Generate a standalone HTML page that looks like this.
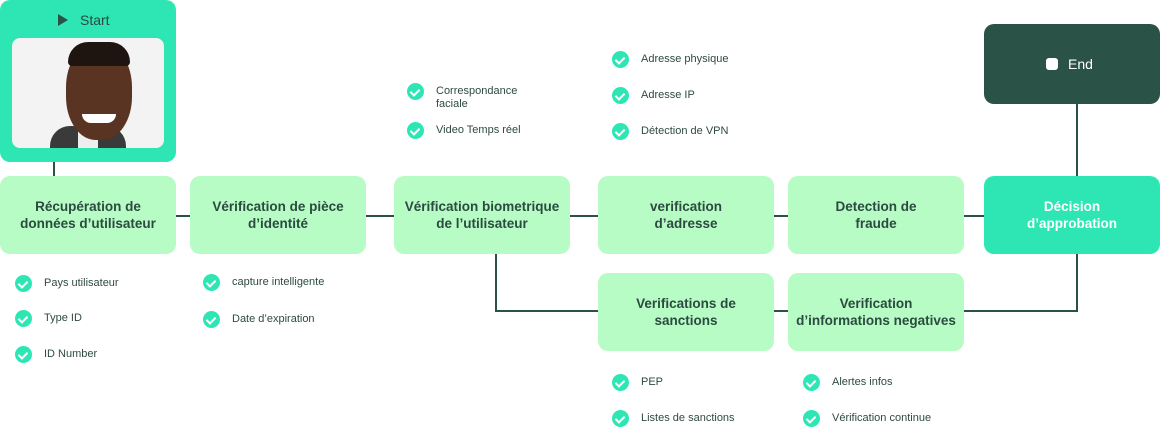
<!DOCTYPE html>
<html><head><meta charset="utf-8"><style>
*{margin:0;padding:0;box-sizing:border-box}
body{width:1161px;height:442px;background:#fff;position:relative;overflow:hidden;font-family:"Liberation Sans",sans-serif;color:#2a4a40}
.n{position:absolute;width:176px;height:78px;border-radius:10px;background:#b7fcc4;display:flex;align-items:center;justify-content:center;text-align:center;font-weight:bold;font-size:13.5px;line-height:17px;color:#2b4a40}
.l{position:absolute;background:#2a5246}
.c{position:absolute;font-size:11px;line-height:13px;color:#2f4a42}
.c::before{content:"";position:absolute;left:-29px;top:-2px;width:17px;height:17px;border-radius:50%;background:#2ee6b4}
.c::after{content:"";position:absolute;left:-24px;top:2px;width:4px;height:7px;border:solid #fff;border-width:0 2px 2px 0;transform:rotate(45deg)}
</style></head><body>
<div class="l" style="left:53px;top:160px;width:2px;height:18px"></div>
<div class="l" style="left:176px;top:215px;width:16px;height:2px"></div>
<div class="l" style="left:366px;top:215px;width:30px;height:2px"></div>
<div class="l" style="left:570px;top:215px;width:30px;height:2px"></div>
<div class="l" style="left:774px;top:215px;width:16px;height:2px"></div>
<div class="l" style="left:964px;top:215px;width:22px;height:2px"></div>
<div class="l" style="left:495px;top:254px;width:2px;height:58px"></div>
<div class="l" style="left:495px;top:310px;width:105px;height:2px"></div>
<div class="l" style="left:774px;top:310px;width:16px;height:2px"></div>
<div class="l" style="left:964px;top:310px;width:114px;height:2px"></div>
<div class="l" style="left:1076px;top:252px;width:2px;height:60px"></div>
<div class="l" style="left:1076px;top:102px;width:2px;height:76px"></div>

<div style="position:absolute;left:0;top:0;width:176px;height:162px;border-radius:10px;background:#2ee6b4">
 <div style="position:absolute;left:58px;top:14px;width:0;height:0;border-left:10px solid #2a5246;border-top:6px solid transparent;border-bottom:6px solid transparent"></div>
 <div style="position:absolute;left:80px;top:12px;font-size:14px;color:#2a4a40">Start</div>
 <div style="position:absolute;left:12px;top:38px;width:152px;height:110px;border-radius:8px;background:#f3f3f3;overflow:hidden">
  <div style="position:absolute;left:38px;top:88px;width:76px;height:40px;border-radius:20px 20px 0 0;background:#3a3a3a"></div>
  <div style="position:absolute;left:66px;top:84px;width:20px;height:26px;background:#eee"></div>
  <div style="position:absolute;left:54px;top:6px;width:66px;height:96px;border-radius:45%;background:#5a3422"></div>
  <div style="position:absolute;left:56px;top:4px;width:62px;height:24px;border-radius:30px 30px 6px 6px;background:#1e1410"></div>
  <div style="position:absolute;left:70px;top:76px;width:34px;height:9px;border-radius:0 0 14px 14px;background:#fff"></div>
 </div>
</div>
<div style="position:absolute;left:984px;top:24px;width:176px;height:80px;border-radius:10px;background:#2a5246">
 <div style="position:absolute;left:62px;top:34px;width:12px;height:12px;border-radius:3px;background:#fff"></div>
 <div style="position:absolute;left:84px;top:32px;font-size:14px;color:#fff">End</div>
</div>

<div class="n" style="left:0;top:176px">Récupération de<br>données d’utilisateur</div>
<div class="n" style="left:190px;top:176px">Vérification de pièce<br>d’identité</div>
<div class="n" style="left:394px;top:176px">Vérification biometrique<br>de l’utilisateur</div>
<div class="n" style="left:598px;top:176px">verification<br>d’adresse</div>
<div class="n" style="left:788px;top:176px">Detection de<br>fraude</div>
<div class="n" style="left:984px;top:176px;background:#2ee6b4;color:#fff">Décision<br>d’approbation</div>
<div class="n" style="left:598px;top:273px">Verifications de<br>sanctions</div>
<div class="n" style="left:788px;top:273px">Verification<br>d’informations negatives</div>

<div class="c" style="left:44px;top:277px">Pays utilisateur</div>
<div class="c" style="left:44px;top:312px">Type ID</div>
<div class="c" style="left:44px;top:348px">ID Number</div>
<div class="c" style="left:232px;top:276px">capture intelligente</div>
<div class="c" style="left:232px;top:313px">Date d’expiration</div>
<div class="c" style="left:436px;top:85px">Correspondance<br>faciale</div>
<div class="c" style="left:436px;top:124px">Video Temps réel</div>
<div class="c" style="left:641px;top:53px">Adresse physique</div>
<div class="c" style="left:641px;top:89px">Adresse IP</div>
<div class="c" style="left:641px;top:125px">Détection de VPN</div>
<div class="c" style="left:641px;top:376px">PEP</div>
<div class="c" style="left:641px;top:412px">Listes de sanctions</div>
<div class="c" style="left:832px;top:376px">Alertes infos</div>
<div class="c" style="left:832px;top:412px">Vérification continue</div>
</body></html>
